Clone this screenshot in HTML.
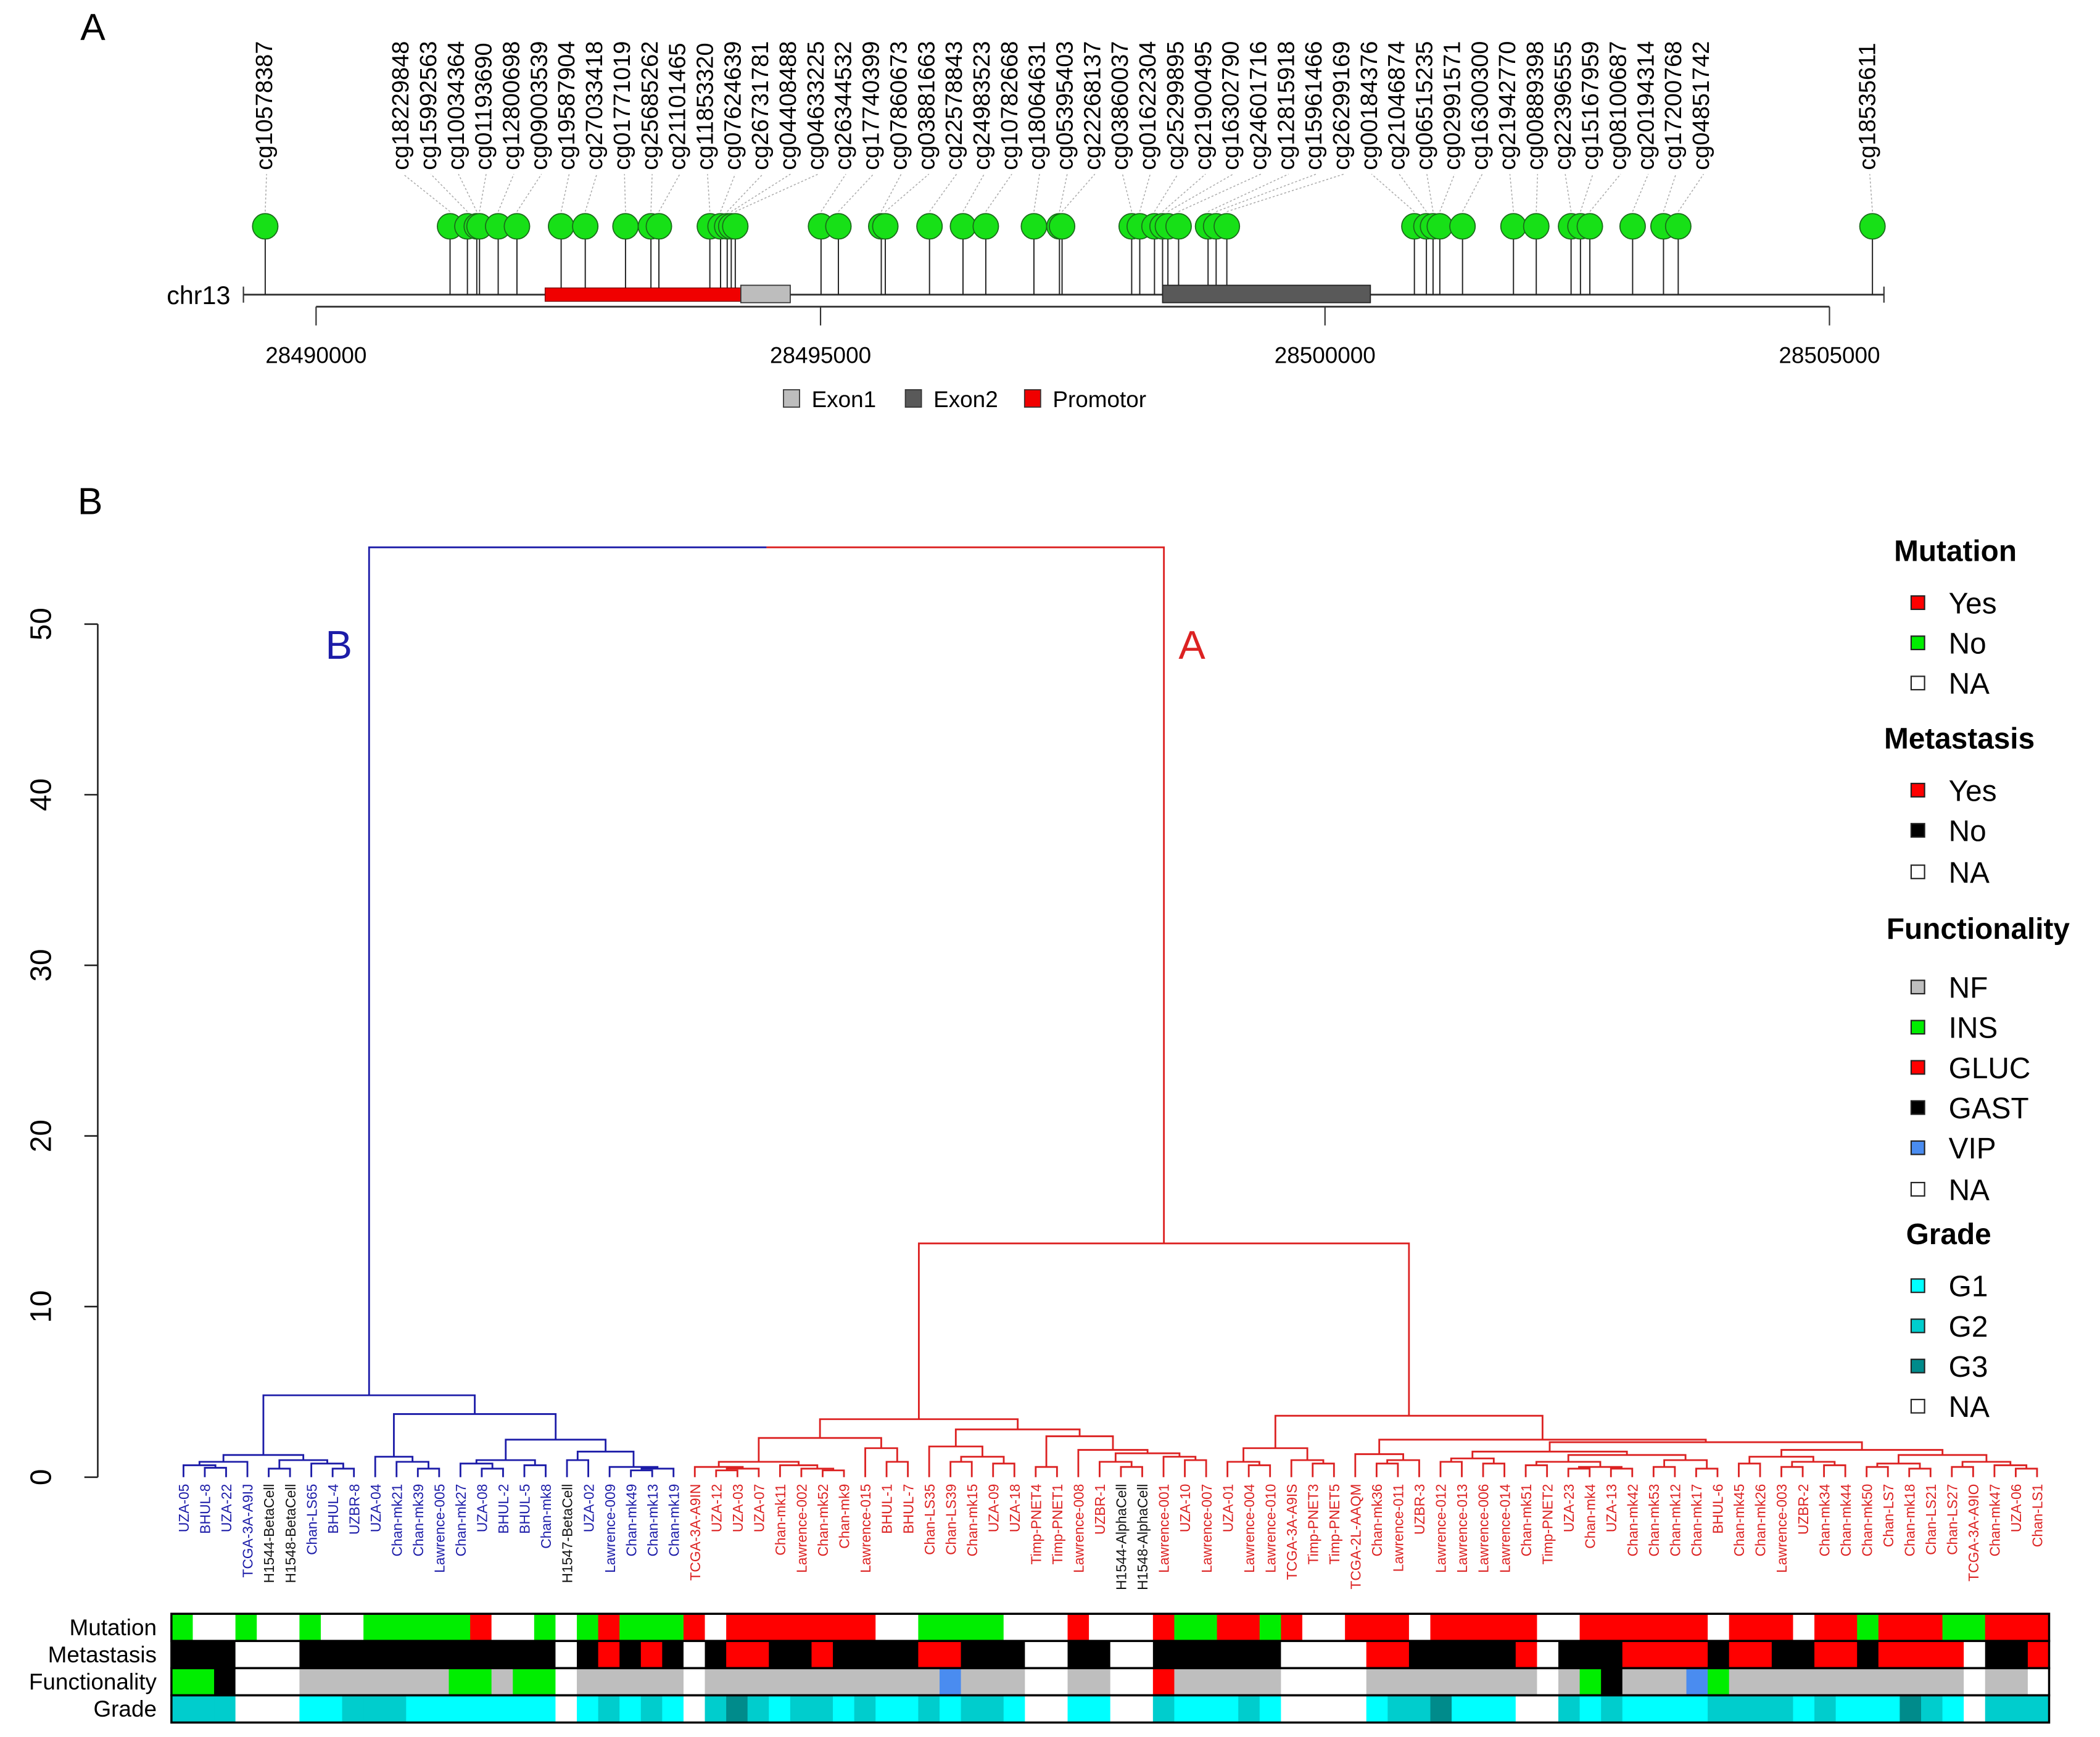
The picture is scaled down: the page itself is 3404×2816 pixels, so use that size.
<!DOCTYPE html>
<html><head><meta charset="utf-8"><style>
html,body{margin:0;padding:0;background:#fff;}
svg{display:block;font-family:"Liberation Sans",sans-serif;}
</style></head><body>
<svg id="fig" xmlns="http://www.w3.org/2000/svg" width="3404" height="2816" viewBox="0 0 1568 1297" preserveAspectRatio="none">
<rect width="1568" height="1297" fill="#fff"/>
<text x="60" y="30" font-size="28">A</text>
<text x="58" y="384" font-size="28">B</text>
<g id="pa"></g>
<g id="pb"></g>
</svg>
<script>
// ---------- Panel A data ----------
const BASE = 28490000;
const probeNames = ["cg10578387","cg18229848","cg15992563","cg10034364","cg01193690","cg12800698","cg09003539","cg19587904","cg27033418","cg01771019","cg25685262","cg21101465","cg11853320","cg07624639","cg26731781","cg04408488","cg04633225","cg26344532","cg17740399","cg07860673","cg03881663","cg22578843","cg24983523","cg10782668","cg18064631","cg05395403","cg22268137","cg03860037","cg01622304","cg25299895","cg21900495","cg16302790","cg24601716","cg12815918","cg15961466","cg26299169","cg00184376","cg21046874","cg06515235","cg02991571","cg16300300","cg21942770","cg00889398","cg22396555","cg15167959","cg08100687","cg20194314","cg17200768","cg04851742","cg18535611"];
const probeOffsets = [-504,1328,1500,1593,1620,1805,1991,2429,2668,3067,3319,3398,3903,4009,4075,4115,4155,5005,5177,5602,5642,6080,6412,6638,7115,7368,7394,8084,8164,8310,8390,8443,8549,8841,8921,9027,10886,11005,11071,11138,11363,11868,12094,12439,12532,12625,13049,13355,13501,15426];
const axisTicks = [28490000,28495000,28500000,28505000];
const promoterRange = [28492270,28494210];
const exon1Range = [28494210,28494700];
const exon2Range = [28498390,28500450];
const chrRange = [28489280,28505540];

// ---------- Panel B data ----------
const leafNames = ["UZA-05","BHUL-8","UZA-22","TCGA-3A-A9IJ","H1544-BetaCell","H1548-BetaCell","Chan-LS65","BHUL-4","UZBR-8","UZA-04","Chan-mk21","Chan-mk39","Lawrence-005","Chan-mk27","UZA-08","BHUL-2","BHUL-5","Chan-mk8","H1547-BetaCell","UZA-02","Lawrence-009","Chan-mk49","Chan-mk13","Chan-mk19",
"TCGA-3A-A9IN","UZA-12","UZA-03","UZA-07","Chan-mk11","Lawrence-002","Chan-mk52","Chan-mk9","Lawrence-015","BHUL-1","BHUL-7","Chan-LS35","Chan-LS39","Chan-mk15","UZA-09","UZA-18","Timp-PNET4","Timp-PNET1","Lawrence-008","UZBR-1","H1544-AlphaCell","H1548-AlphaCell","Lawrence-001","UZA-10","Lawrence-007","UZA-01","Lawrence-004","Lawrence-010","TCGA-3A-A9IS","Timp-PNET3","Timp-PNET5","TCGA-2L-AAQM","Chan-mk36","Lawrence-011","UZBR-3","Lawrence-012","Lawrence-013","Lawrence-006","Lawrence-014","Chan-mk51","Timp-PNET2","UZA-23","Chan-mk4","UZA-13","Chan-mk42","Chan-mk53","Chan-mk12","Chan-mk17","BHUL-6","Chan-mk45","Chan-mk26","Lawrence-003","UZBR-2","Chan-mk34","Chan-mk44","Chan-mk50","Chan-LS7","Chan-mk18","Chan-LS21","Chan-LS27","TCGA-3A-A9IO","Chan-mk47","UZA-06","Chan-LS1"];
const mutationRuns = "N1 A2 N1 A2 N1 A2 N5 Y1 A2 N1 A1 N1 Y1 N3 Y1 A1 Y7 A2 N4 A3 Y1 A3 Y1 N2 Y2 N1 Y1 A2 Y3 A1 Y5 A2 Y6 A1 Y3 A1 Y2 N1 Y3 N2 Y3";
const metastasisRuns = "K3 A3 K12 A1 K1 R1 K1 R1 K1 A1 K1 R2 K2 R1 K4 R2 K3 A2 K2 A2 K6 A4 R2 K5 R1 A1 K3 R4 K1 R2 K2 R2 K1 R4 A1 K2 R1";
const functionalityRuns = "G2 K1 A3 F7 G2 F1 G2 A1 F5 A1 F11 B1 F3 A2 F2 A2 R1 F5 A4 F8 A1 F1 G1 K1 F3 B1 G1 F11 A1 F2 A1";
const gradeRuns = "2:3 A3 1:2 2:3 1:7 A1 1:1 2:1 1:1 2:1 1:1 A1 2:1 3:1 2:1 1:1 2:2 1:1 2:1 1:2 2:1 1:1 2:2 1:1 A2 1:2 A2 2:1 1:3 2:1 1:1 A4 1:1 2:2 3:1 1:3 A2 2:1 1:1 2:1 1:4 2:4 1:1 2:1 1:3 3:1 2:1 1:1 A1 2:3";
// tree nodes: [height, left, right]; leaves are indices
const blueTree = [4.8,
  [1.3,[0.9,[0.7,0,[0.55,1,2]],3],[1.0,[0.5,4,5],[0.8,6,[0.5,7,8]]]],
  [3.7,[1.2,9,[0.9,10,[0.5,11,12]]],[2.2,[1.0,[0.8,13,[0.5,14,15]],[0.7,16,17]],[1.5,[1.0,18,19],[0.6,20,[0.5,[0.4,21,22],23]]]]]];
const redTree = [13.7,
  [3.4,
    [2.3,[0.9,[0.6,24,[0.5,[0.4,25,26],27]],[0.7,28,[0.5,29,[0.4,30,31]]]],[1.7,32,[0.9,33,34]]],
    [2.8,[1.8,35,[1.2,[0.9,36,37],[0.8,38,39]]],
         [2.4,[0.6,40,41],[1.6,42,[1.4,[0.9,43,[0.6,44,45]],[1.2,46,[1.0,47,48]]]]]]],
  [3.6,
    [1.7,[0.9,49,[0.7,50,51]],[1.0,52,[0.8,53,54]]],
    [2.2,
      [1.35,55,[1.0,[0.8,56,57],58]],
      [2.05,
        [1.5,[1.1,[0.9,59,60],[0.8,61,62]],[1.3,[0.9,[0.7,63,64],[0.6,[0.5,65,66],[0.5,67,68]]],[1.0,[0.6,69,70],[0.5,71,72]]]],
        [1.6,[1.2,[0.8,73,74],[0.9,[0.6,75,76],[0.7,77,78]]],[1.3,[0.8,[0.6,79,80],[0.5,81,82]],[0.9,[0.6,83,84],[0.7,85,[0.5,86,87]]]]]]]]];
const rootHeight = 54.5;
const yTicks = [0,10,20,30,40,50];

const NS="http://www.w3.org/2000/svg";
function mk(parent,tag,attrs,text){const e=document.createElementNS(NS,tag);for(const k in attrs)e.setAttribute(k,attrs[k]);if(text!==undefined)e.textContent=text;parent.appendChild(e);return e;}

// ---------- Panel A ----------
const pa=document.getElementById('pa');
const gx = p => 236 + (p-28490000)*(1130/15000);
const chrY=220;
let e;
e=mk(pa,'line',{x1:gx(chrRange[0]),x2:gx(chrRange[1]),y1:chrY,y2:chrY,stroke:'#333','stroke-width':1.3});


mk(pa,'line',{x1:gx(chrRange[0]),x2:gx(chrRange[0]),y1:chrY-6,y2:chrY+6,stroke:'#333'});
mk(pa,'line',{x1:gx(chrRange[1]),x2:gx(chrRange[1]),y1:chrY-6,y2:chrY+6,stroke:'#333'});
e=mk(pa,'text',{x:172,y:chrY+7,'font-size':19,'text-anchor':'end'},'chr13');


const stemLayer=mk(pa,'g',{});
e=mk(pa,'rect',{x:gx(promoterRange[0]),y:chrY-5,width:gx(promoterRange[1])-gx(promoterRange[0]),height:10,fill:'#f00000',stroke:'#700','stroke-width':0.6});


e=mk(pa,'rect',{x:gx(exon1Range[0]),y:chrY-7,width:gx(exon1Range[1])-gx(exon1Range[0]),height:13,fill:'#bdbdbd',stroke:'#333','stroke-width':0.8});


e=mk(pa,'rect',{x:gx(exon2Range[0]),y:chrY-7,width:gx(exon2Range[1])-gx(exon2Range[0]),height:13,fill:'#595959',stroke:'#222','stroke-width':0.8});


mk(pa,'line',{x1:gx(axisTicks[0]),x2:gx(axisTicks[axisTicks.length-1]),y1:229,y2:229,stroke:'#333','stroke-width':1.3});
axisTicks.forEach(t=>{
  mk(pa,'line',{x1:gx(t),x2:gx(t),y1:229,y2:243,stroke:'#333'});
  const tl=mk(pa,'text',{x:gx(t),y:271,'font-size':17,'text-anchor':'middle'},String(t));
  
  
});
const nP=probeNames.length;
probeNames.forEach((nm,i)=>{
  const px=gx(BASE+probeOffsets[i]);
  let lx;
  if(i===0) lx=px+5; else if(i===nP-1) lx=px+2; else lx=305+(i-1)*(1276-305)/(nP-3);
  mk(stemLayer,'line',{x1:px,x2:px,y1:chrY,y2:169,stroke:'#222','stroke-width':0.9});
  mk(pa,'line',{x1:px,x2:lx-4,y1:158,y2:130,stroke:'#aaa','stroke-width':0.7,'stroke-dasharray':'1.5,1.5'});
  const c=mk(pa,'circle',{cx:px,cy:169,r:9.5,fill:'#17e017',stroke:'#1a6a1a','stroke-width':0.8});
  
  
  const t=mk(pa,'text',{x:lx,y:127,'font-size':17.5,transform:`rotate(-90 ${lx} 127)`},nm);
  
  
});
[["Exon1","#bdbdbd",585],["Exon2","#595959",676],["Promotor","#f00000",765]].forEach(([lab,col,x])=>{
  const g=mk(pa,'g',{});
  
  
  mk(g,'rect',{x:x,y:291,width:12,height:13,fill:col,stroke:'#333','stroke-width':0.8});
  mk(g,'text',{x:x+21,y:304,'font-size':17},lab);
});

// ---------- Panel B ----------
const pb=document.getElementById('pb');
const y0=1103, pxPerUnit=(1103-466)/50;
const yh = h => y0 - h*pxPerUnit;
const lx = i => 137 + i*(1521-137)/87;
mk(pb,'line',{x1:73,x2:73,y1:yh(0),y2:yh(50),stroke:'#222','stroke-width':1.2});
yTicks.forEach(t=>{
  mk(pb,'line',{x1:63,x2:73,y1:yh(t),y2:yh(t),stroke:'#222','stroke-width':1.2});
  const tt=mk(pb,'text',{x:38,y:yh(t),'font-size':22,'text-anchor':'middle',transform:`rotate(-90 38 ${yh(t)})`},String(t));
  
  
});
function drawTree(node,col,g){
  if(typeof node==='number') return {x:lx(node),h:0};
  const a=drawTree(node[1],col,g), b=drawTree(node[2],col,g);
  const y=yh(node[0]);
  mk(g,'path',{d:`M${a.x},${yh(a.h)}V${y}H${b.x}V${yh(b.h)}`,fill:'none',stroke:col,'stroke-width':1.3});
  return {x:(a.x+b.x)/2,h:node[0]};
}
const gBlue=mk(pb,'g',{});


const gRed=mk(pb,'g',{});


const bRoot=drawTree(blueTree,'#1c1ca8',gBlue);
const rRoot=drawTree(redTree,'#dc2222',gRed);
const ry=yh(rootHeight), mid=(bRoot.x+rRoot.x)/2;
mk(gBlue,'path',{d:`M${bRoot.x},${yh(bRoot.h)}V${ry}H${mid}`,fill:'none',stroke:'#1c1ca8','stroke-width':1.3});
mk(gRed,'path',{d:`M${mid},${ry}H${rRoot.x}V${yh(rRoot.h)}`,fill:'none',stroke:'#dc2222','stroke-width':1.3});
e=mk(pb,'text',{x:253,y:492,'font-size':30,fill:'#1c1ca8','text-anchor':'middle'},'B');


e=mk(pb,'text',{x:890,y:492,'font-size':30,fill:'#dc2222','text-anchor':'middle'},'A');


leafNames.forEach((nm,i)=>{
  const x=lx(i)+4, y=1108;
  const col=/BetaCell|AlphaCell/.test(nm)?'#111':(i<24?'#1c1ca8':'#dc2222');
  const t=mk(pb,'text',{x:x,y:y,'font-size':10.5,fill:col,'text-anchor':'end',transform:`rotate(-90 ${x} ${y})`},nm);
  
  
});
function expand(runs){const out=[];runs.split(' ').forEach(r=>{let c,n;if(r.includes(':')){[c,n]=r.split(':');}else{c=r[0];n=r.slice(1);}for(let k=0;k<+n;k++)out.push(c);});return out;}
const mutCol={Y:'#ff0000',N:'#00ee00',A:'#ffffff'};
const metCol={R:'#ff0000',K:'#000000',A:'#ffffff'};
const funCol={F:'#bebebe',G:'#00ee00',R:'#ff0000',K:'#000000',B:'#4a8cf0',A:'#ffffff'};
const graCol={'1':'#00ffff','2':'#00cdcd','3':'#008b8b',A:'#ffffff'};
const rows=[["Mutation",expand(mutationRuns),mutCol],["Metastasis",expand(metastasisRuns),metCol],["Functionality",expand(functionalityRuns),funCol],["Grade",expand(gradeRuns),graCol]];
const ax0=128, ax1=1530, cw=(ax1-ax0)/88, rowTop=1205, rh=20.3;
rows.forEach(([lab,vals,cmap],r)=>{
  const g=mk(pb,'g',{});
  
  
  const y=rowTop+r*rh;
  vals.forEach((v,i)=>{mk(g,'rect',{x:ax0+i*cw,y:y,width:cw+0.4,height:rh,fill:cmap[v]});});
  mk(g,'rect',{x:ax0,y:y,width:ax1-ax0,height:rh,fill:'none',stroke:'#000','stroke-width':1.6});
  const t=mk(pb,'text',{x:117,y:y+16,'font-size':17,'text-anchor':'end'},lab);
  
  
});
const legend=[["Mutation",1460,411,[["Yes","#ff0000",450],["No","#00ee00",480],["NA","#ffffff",510]]],
["Metastasis",1463,551,[["Yes","#ff0000",590],["No","#000000",620],["NA","#ffffff",651]]],
["Functionality",1477,693,[["NF","#bebebe",737],["INS","#00ee00",767],["GLUC","#ff0000",797],["GAST","#000000",827],["VIP","#4a8cf0",857],["NA","#ffffff",888]]],
["Grade",1455,921,[["G1","#00ffff",960],["G2","#00cdcd",990],["G3","#008b8b",1020],["NA","#ffffff",1050]]]];
legend.forEach(([title,tx,ty,items])=>{
  const tt=mk(pb,'text',{x:tx,y:ty+8,'font-size':22,'font-weight':'bold','text-anchor':'middle'},title);
  
  
  items.forEach(([lab,col,y])=>{
    const g=mk(pb,'g',{});
    
    
    mk(g,'rect',{x:1427,y:y-5,width:10,height:10,fill:col,stroke:'#222','stroke-width':1});
    mk(g,'text',{x:1455,y:y+8,'font-size':22},lab);
  });
});
</script>
</body></html>
